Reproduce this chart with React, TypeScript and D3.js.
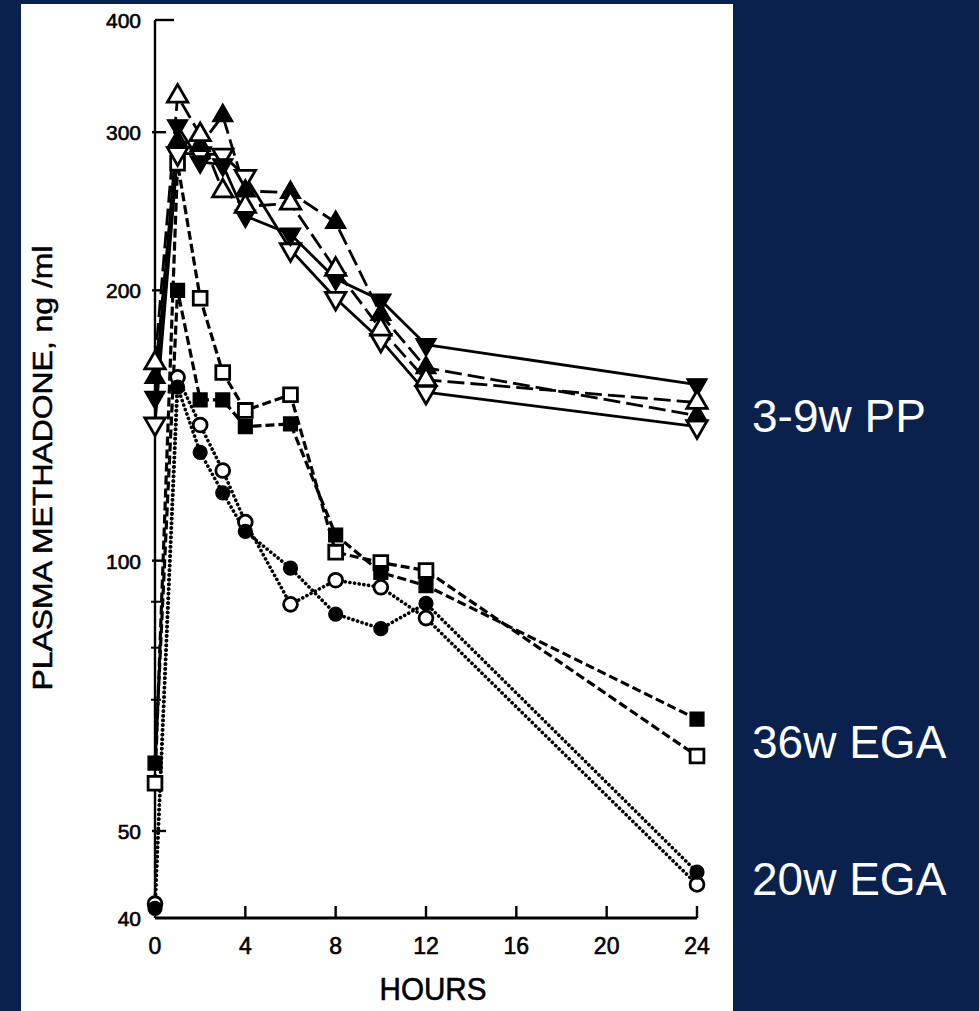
import React from "react";
import * as d3 from "d3";

// sampling times (hours after dose)
const hours = [0, 1, 2, 3, 4, 6, 8, 10, 12, 24];

// 3-9 weeks postpartum
const ppFilledUp = [160, 293, 290, 313, 258, 257, 238, 188, 164, 145];
const ppOpenUp = [166, 329, 298, 258, 248, 250, 211, 181, 159, 150];
const ppFilledDown = [152, 305, 278, 276, 242, 231, 206, 195, 174, 157];
const ppOpenDown = [142, 284, 284, 283, 268, 222, 196, 176, 154, 141];

// 36 weeks EGA
const ega36Filled = [59.5, 200, 151, 151, 141, 142, 106.8, 97, 93.8, 66.6];
const ega36Open = [56.5, 277, 196, 162, 147, 153, 102.2, 99.5, 97.5, 60.6];

// 20 weeks EGA
const ega20Filled = [41, 156, 132, 119, 107.8, 98.1, 87.2, 84, 89.6, 45];
const ega20Open = [41.5, 160, 141.6, 126, 110.4, 89.4, 95.1, 93.4, 86.3, 43.6];

const xTicks = [0, 4, 8, 12, 16, 20, 24];
const yTicks = [40, 50, 100, 200, 300, 400];
const yMinorTicks = [60, 70, 80, 90];
const groupLabels = ["3-9w PP", "36w EGA", "20w EGA"];

const W = 979;
const H = 1011;
const NAVY = "#0a214d";

const x = d3.scaleLinear().domain([0, 24]).range([155, 697]);
const y = d3.scaleLog().domain([40, 400]).range([918, 20]);

type Shape = "up" | "down" | "square" | "circle";
type Style = "solid" | "longdash" | "dash" | "dot";

const series: { values: number[]; shape: Shape; filled: boolean; style: Style }[] = [
  { values: ega20Open, shape: "circle", filled: false, style: "dot" },
  { values: ega20Filled, shape: "circle", filled: true, style: "dot" },
  { values: ega36Open, shape: "square", filled: false, style: "dash" },
  { values: ega36Filled, shape: "square", filled: true, style: "dash" },
  { values: ppOpenDown, shape: "down", filled: false, style: "solid" },
  { values: ppFilledDown, shape: "down", filled: true, style: "solid" },
  { values: ppFilledUp, shape: "up", filled: true, style: "longdash" },
  { values: ppOpenUp, shape: "up", filled: false, style: "longdash" },
];

const dashFor: Record<Style, string | undefined> = {
  solid: undefined,
  longdash: "17,6",
  dash: "9,4",
  dot: "0.1,4.6",
};

const symbolPath = (shape: Shape) => {
  if (shape === "square") return d3.symbol().type(d3.symbolSquare).size(190)()!;
  if (shape === "circle") return d3.symbol().type(d3.symbolCircle).size(150)()!;
  return d3.symbol().type(d3.symbolTriangle).size(180)()!;
};

const line = d3
  .line<number>()
  .x((_, i) => x(hours[i]))
  .y((v) => y(v));

export default function App() {
  const font = "'Liberation Sans', Arial, sans-serif";
  return (
    <div style={{ position: "absolute", left: 0, top: 0 }}>
      <svg width={W} height={H} style={{ display: "block" }}>
        <rect x={0} y={0} width={W} height={H} fill={NAVY} />
        <rect x={21} y={4} width={712} height={H - 4} fill="#fff" />

        {/* axes */}
        <g stroke="#000" strokeWidth={2.4} fill="none">
          <line x1={x(0)} x2={x(0)} y1={y(400)} y2={y(40)} />
          <line x1={x(0)} x2={x(24)} y1={y(40)} y2={y(40)} strokeWidth={2.8} />
          <line x1={x(0)} x2={x(0) + 19} y1={y(400)} y2={y(400)} />
          {yTicks.filter((t) => t !== 400 && t !== 40).map((t) => (
            <line key={t} x1={x(0) - 3} x2={x(0) + 11} y1={y(t)} y2={y(t)} />
          ))}
          {yMinorTicks.map((t) => (
            <line key={t} x1={x(0) - 4} x2={x(0) + 6} y1={y(t)} y2={y(t)} strokeWidth={2} />
          ))}
          {xTicks.filter((t) => t !== 0).map((t) => (
            <line key={t} x1={x(t)} x2={x(t)} y1={y(40)} y2={y(40) - 12} />
          ))}
        </g>

        {/* tick labels */}
        <g fontFamily={font} fontSize={21} fill="#000" stroke="#000" strokeWidth={0.6} textAnchor="end">
          {yTicks.map((t) => (
            <text key={t} x={141} y={y(t) + 8}>
              {t}
            </text>
          ))}
        </g>
        <g fontFamily={font} fontSize={23} fill="#000" stroke="#000" strokeWidth={0.6} textAnchor="middle">
          {xTicks.map((t) => (
            <text key={t} x={x(t)} y={954}>
              {t}
            </text>
          ))}
        </g>
        <text
          x={433}
          y={1000}
          fontFamily={font}
          fontSize={32}
          stroke="#000"
          strokeWidth={0.6}
          textAnchor="middle"
          textLength={107}
          lengthAdjust="spacingAndGlyphs"
        >
          HOURS
        </text>
        <text
          transform="translate(52,468) rotate(-90)"
          fontFamily={font}
          fontSize={27}
          stroke="#000"
          strokeWidth={0.5}
          textAnchor="middle"
          textLength={445}
          lengthAdjust="spacingAndGlyphs"
        >
          PLASMA METHADONE, ng /ml
        </text>

        {/* lines */}
        {series.map((s, i) => (
          <path
            key={"l" + i}
            d={line(s.values)!}
            fill="none"
            stroke="#000"
            strokeWidth={s.style === "dot" ? 3.6 : s.style === "dash" ? 3.2 : 2.8}
            strokeDasharray={dashFor[s.style]}
            strokeLinecap={s.style === "dot" ? "round" : "butt"}
          />
        ))}

        {/* markers */}
        {series.map((s, i) =>
          s.values.map((v, j) => (
            <path
              key={"m" + i + "-" + j}
              d={symbolPath(s.shape)}
              transform={`translate(${x(hours[j])},${y(v)})${s.shape === "down" ? " rotate(180)" : ""}`}
              fill={s.filled ? "#000" : "#fff"}
              stroke="#000"
              strokeWidth={s.filled ? 1.4 : 2.8}
            />
          ))
        )}

        {/* group labels */}
        <g fontFamily={font} fontSize={46} fill="#fff">
          <text x={752} y={432}>{groupLabels[0]}</text>
          <text x={752} y={758}>{groupLabels[1]}</text>
          <text x={752} y={895}>{groupLabels[2]}</text>
        </g>
      </svg>
    </div>
  );
}
